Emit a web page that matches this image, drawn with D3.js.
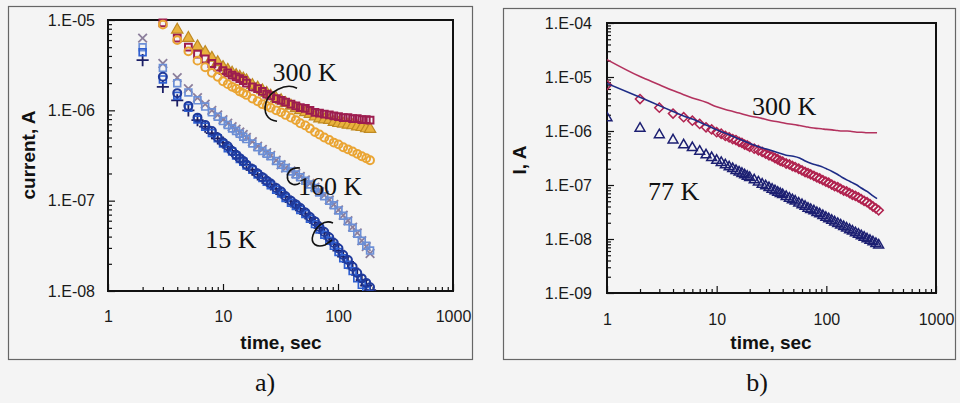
<!DOCTYPE html>
<html>
<head>
<meta charset="utf-8">
<script src="https://cdn.jsdelivr.net/npm/d3@7"></script>
<style>
  body { margin: 0; background: #f4f4f4; }
  svg { display: block; font-family: "Liberation Sans", Arial, sans-serif; }
  .tick text { font-size: 16px; fill: #1a1a1a; }
  .note { font-family: "Liberation Serif", "Times New Roman", serif; font-size: 26px; fill: #111; }
</style>
</head>
<body>
<script>
// 画布
const width = 960;
const height = 403;

// ---- 图 a) 数据: 时间 (s) 与电流 (A)
const tA = [2,3,4,5,6,7,8,9,10,11,12,13,14,15,16,18,20,22,24,26,29,32,35,39,43,47,52,57,63,69,76,84,92,101,111,122,134,147,161,176,190];

const a300Sq = [null,9.3e-6,6.3e-6,5.0e-6,4.2e-6,3.7e-6,3.3e-6,3.0e-6,2.75e-6,2.6e-6,2.45e-6,2.35e-6,2.24e-6,2.14e-6,2.0e-6,
  1.82e-6,1.74e-6,1.62e-6,1.51e-6,1.45e-6,1.35e-6,1.29e-6,1.23e-6,1.17e-6,1.12e-6,1.07e-6,1.05e-6,1.0e-6,9.5e-7,9.3e-7,
  9.1e-7,8.9e-7,8.7e-7,8.5e-7,8.3e-7,8.3e-7,8.1e-7,8.1e-7,7.9e-7,7.9e-7,7.8e-7];
const a300Tri = [null,null,7.8e-6,6.3e-6,5.1e-6,4.4e-6,3.8e-6,3.4e-6,3.0e-6,2.8e-6,2.6e-6,2.45e-6,2.35e-6,2.24e-6,2.14e-6,
  1.9e-6,1.78e-6,1.66e-6,1.55e-6,1.45e-6,1.35e-6,1.29e-6,1.2e-6,1.12e-6,1.05e-6,1.0e-6,9.5e-7,9.1e-7,8.5e-7,8.1e-7,
  7.9e-7,7.8e-7,7.4e-7,7.2e-7,7.1e-7,6.9e-7,6.8e-7,6.6e-7,6.5e-7,6.3e-7,6.2e-7];
const a300Circ = [null,8.9e-6,6.0e-6,4.5e-6,3.55e-6,3.0e-6,2.6e-6,2.35e-6,2.1e-6,1.95e-6,1.82e-6,1.74e-6,1.62e-6,1.55e-6,1.48e-6,
  1.35e-6,1.26e-6,1.17e-6,1.12e-6,1.07e-6,1.0e-6,9.5e-7,8.9e-7,8.3e-7,7.8e-7,7.2e-7,6.8e-7,6.3e-7,5.75e-7,5.4e-7,
  5.0e-7,4.7e-7,4.4e-7,4.2e-7,3.9e-7,3.7e-7,3.5e-7,3.3e-7,3.1e-7,2.95e-7,2.8e-7];
const a160X = [6.3e-6,3.3e-6,2.3e-6,1.74e-6,1.38e-6,1.17e-6,1.0e-6,8.9e-7,7.9e-7,7.2e-7,6.6e-7,6.2e-7,5.75e-7,5.4e-7,5.0e-7,
  4.5e-7,4.0e-7,3.7e-7,3.4e-7,3.16e-7,2.8e-7,2.5e-7,2.3e-7,2.14e-7,2.0e-7,1.86e-7,1.7e-7,1.55e-7,1.41e-7,1.26e-7,
  1.15e-7,1.02e-7,9.1e-8,7.9e-8,6.9e-8,6.0e-8,5.1e-8,4.4e-8,3.6e-8,3.1e-8,2.6e-8];
const a160Sq = [5.0e-6,2.95e-6,2.0e-6,1.58e-6,1.29e-6,1.1e-6,9.5e-7,8.5e-7,7.6e-7,6.9e-7,6.3e-7,5.9e-7,5.5e-7,5.1e-7,4.8e-7,
  4.3e-7,3.9e-7,3.55e-7,3.3e-7,3.1e-7,2.75e-7,2.5e-7,2.3e-7,2.1e-7,1.95e-7,1.82e-7,1.66e-7,1.51e-7,1.38e-7,1.23e-7,
  1.12e-7,1.0e-7,8.9e-8,7.8e-8,6.8e-8,5.9e-8,5.0e-8,4.3e-8,3.6e-8,3.16e-8,2.8e-8];
const a15Circ = [null,2.35e-6,1.55e-6,1.12e-6,8.3e-7,6.9e-7,5.9e-7,5.0e-7,4.4e-7,4.0e-7,3.55e-7,3.2e-7,2.95e-7,2.75e-7,2.5e-7,
  2.24e-7,2.0e-7,1.82e-7,1.66e-7,1.55e-7,1.38e-7,1.26e-7,1.12e-7,1.0e-7,9.1e-8,8.3e-8,7.4e-8,6.6e-8,5.9e-8,5.1e-8,
  4.5e-8,3.9e-8,3.4e-8,2.95e-8,2.5e-8,2.2e-8,1.86e-8,1.58e-8,1.38e-8,1.23e-8,1.1e-8];
const a15Sq = [4.4e-6,2.2e-6,1.45e-6,1.07e-6,7.9e-7,6.6e-7,5.6e-7,4.9e-7,4.3e-7,3.8e-7,3.5e-7,3.16e-7,2.9e-7,2.7e-7,2.45e-7,
  2.2e-7,1.95e-7,1.78e-7,1.62e-7,1.48e-7,1.32e-7,1.2e-7,1.07e-7,9.5e-8,8.7e-8,7.9e-8,7.1e-8,6.3e-8,5.5e-8,4.8e-8,
  4.2e-8,3.6e-8,3.16e-8,2.7e-8,2.3e-8,1.95e-8,1.66e-8,1.38e-8,1.17e-8,1.02e-8,null];
const a15Plus = [3.6e-6,1.82e-6,1.29e-6,1.0e-6,7.8e-7,6.6e-7,5.6e-7,4.9e-7,4.4e-7,3.9e-7,3.55e-7,3.2e-7,2.95e-7,2.7e-7,2.5e-7,
  2.2e-7,1.95e-7,1.78e-7,1.66e-7,1.51e-7,1.35e-7,1.23e-7,1.1e-7,9.8e-8,8.9e-8,8.1e-8,7.2e-8,6.5e-8,5.75e-8,5.0e-8,
  4.4e-8,3.8e-8,3.3e-8,2.8e-8,2.4e-8,2.1e-8,1.78e-8,1.51e-8,1.32e-8,1.15e-8,1.02e-8];

// ---- 图 b) 数据
const tB = [1,2,3,4,5,6,7,8,9,10,11,12,13,14,15,16,17,18,19,20,22,24,26,28,30,32,34,36,38,40,43,46,49,52,56,60,64,68,72,77,
  82,87,93,99,105,112,119,127,135,144,153,163,173,184,196,208,221,235,250,266,283,300];
const b300Dia = [7.1e-6,3.9e-6,2.7e-6,2.1e-6,1.8e-6,1.55e-6,1.35e-6,1.17e-6,1.07e-6,9.5e-7,8.9e-7,8.1e-7,7.6e-7,7.1e-7,6.8e-7,6.3e-7,6.0e-7,5.6e-7,5.4e-7,5.1e-7,
  4.7e-7,4.4e-7,4.1e-7,3.8e-7,3.55e-7,3.4e-7,3.16e-7,3.0e-7,2.8e-7,2.7e-7,
  2.5e-7,2.4e-7,2.25e-7,2.15e-7,2.0e-7,1.86e-7,1.74e-7,1.66e-7,1.58e-7,1.48e-7,
  1.38e-7,1.32e-7,1.23e-7,1.15e-7,1.1e-7,1.02e-7,9.5e-8,9.1e-8,8.5e-8,7.9e-8,
  7.6e-8,7.1e-8,6.6e-8,6.3e-8,5.9e-8,5.5e-8,5.1e-8,4.8e-8,4.4e-8,4.0e-8,3.7e-8,3.4e-8];
const b77Tri = [1.75e-6,1.12e-6,8.5e-7,6.8e-7,5.5e-7,4.9e-7,4.2e-7,3.6e-7,3.2e-7,2.85e-7,2.6e-7,2.35e-7,2.16e-7,2.0e-7,1.85e-7,1.73e-7,1.63e-7,1.53e-7,1.44e-7,1.37e-7,
  1.24e-7,1.13e-7,1.03e-7,9.6e-8,8.9e-8,8.3e-8,7.8e-8,7.3e-8,6.9e-8,6.6e-8,
  6.1e-8,5.65e-8,5.3e-8,5.0e-8,4.6e-8,4.3e-8,4.0e-8,3.7e-8,3.5e-8,3.3e-8,
  3.06e-8,2.9e-8,2.7e-8,2.5e-8,2.36e-8,2.2e-8,2.06e-8,1.93e-8,1.81e-8,1.69e-8,
  1.58e-8,1.48e-8,1.39e-8,1.3e-8,1.22e-8,1.14e-8,1.07e-8,1.0e-8,9.4e-9,8.8e-9,8.2e-9,7.7e-9];
const tLine = [1,2,3,4,5,6,8,10,13,16,20,25,30,36,43,50,57,65,73,81,90,100,113,126,140,155,170,190,210,235,260,290];
const bLineRed = [2.1e-5,1.02e-5,7.2e-6,5.6e-6,4.7e-6,4.1e-6,3.4e-6,2.8e-6,2.4e-6,2.15e-6,1.9e-6,1.74e-6,1.58e-6,1.48e-6,1.38e-6,1.32e-6,
  1.26e-6,1.2e-6,1.15e-6,1.12e-6,1.1e-6,1.07e-6,1.05e-6,1.02e-6,1.0e-6,1.0e-6,9.8e-7,9.5e-7,9.5e-7,9.3e-7,9.3e-7,9.3e-7];
const bLineBlue = [7.6e-6,4.2e-6,2.95e-6,2.3e-6,1.9e-6,1.66e-6,1.29e-6,1.05e-6,8.5e-7,7.1e-7,5.9e-7,5.0e-7,4.5e-7,4.0e-7,3.55e-7,3.4e-7,
  3.16e-7,2.75e-7,2.5e-7,2.35e-7,2.2e-7,2.0e-7,1.78e-7,1.58e-7,1.38e-7,1.23e-7,1.12e-7,1.0e-7,8.7e-8,7.6e-8,6.5e-8,5.6e-8];

// 刻度标签
const xTickVals = [1, 10, 100, 1000];
const xTickLabels = ['1', '10', '100', '1000'];
const yTicksA = [1e-8, 1e-7, 1e-6, 1e-5];
const yLabelsA = ['1.E-08', '1.E-07', '1.E-06', '1.E-05'];
const yTicksB = [1e-9, 1e-8, 1e-7, 1e-6, 1e-5, 1e-4];
const yLabelsB = ['1.E-09', '1.E-08', '1.E-07', '1.E-06', '1.E-05', '1.E-04'];

let svg = d3.select('body')
    .append('svg')
    .attr('width', width)
    .attr('height', height);

svg.append('rect').attr('width', width).attr('height', height).attr('fill', '#f4f4f4');

// 外框
svg.append('rect').attr('x', 8.5).attr('y', 6.5).attr('width', 464).attr('height', 353)
    .attr('fill', 'none').attr('stroke', '#666').attr('stroke-width', 1.2);
svg.append('rect').attr('x', 503.5).attr('y', 8.5).attr('width', 452).attr('height', 351)
    .attr('fill', 'none').attr('stroke', '#666').attr('stroke-width', 1.2);

function makePanel(id, box, yDomain, yTicks, yLabels, xPad, yPad) {
  const x = d3.scaleLog().domain([1, 1000]).range([box.left, box.right]);
  const y = d3.scaleLog().domain(yDomain).range([box.bottom, box.top]);

  svg.append('clipPath').attr('id', id)
    .append('rect')
    .attr('x', box.left).attr('y', box.top - 4)
    .attr('width', box.right - box.left + 4).attr('height', box.bottom - box.top + 4);

  // 次刻度
  const xMinor = x.ticks().filter(d => xTickVals.indexOf(d) < 0);
  const yMinor = y.ticks().filter(d => yTicks.indexOf(d) < 0);
  svg.append('g')
    .attr('transform', 'translate(0,' + box.bottom + ')')
    .call(d3.axisBottom(x).tickValues(xMinor).tickSize(-4).tickFormat(''))
    .call(g => g.select('.domain').remove());
  svg.append('g')
    .attr('transform', 'translate(' + box.left + ',0)')
    .call(d3.axisLeft(y).tickValues(yMinor).tickSize(-4).tickFormat(''))
    .call(g => g.select('.domain').remove());

  // 主刻度
  svg.append('g')
    .attr('transform', 'translate(0,' + box.bottom + ')')
    .call(d3.axisBottom(x).tickValues(xTickVals).tickSize(-7).tickPadding(xPad)
      .tickFormat((d, i) => xTickLabels[i]))
    .call(g => g.select('.domain').remove());
  svg.append('g')
    .attr('transform', 'translate(' + box.left + ',0)')
    .call(d3.axisLeft(y).tickValues(yTicks).tickSize(-7).tickPadding(yPad)
      .tickFormat((d, i) => yLabels[i]))
    .call(g => g.select('.domain').remove());

  svg.selectAll('.tick line').attr('stroke', '#111').attr('stroke-width', 1.2);

  svg.append('rect')
    .attr('x', box.left).attr('y', box.top)
    .attr('width', box.right - box.left).attr('height', box.bottom - box.top)
    .attr('fill', 'none').attr('stroke', '#111').attr('stroke-width', 2);

  const plot = svg.append('g').attr('clip-path', 'url(#' + id + ')');
  return { x, y, plot };
}

function drawSeries(p, times, values, o) {
  const pts = times.map((t, i) => [t, values[i]]).filter(d => d[1] != null);
  p.plot.append('g')
    .selectAll('path')
    .data(pts)
    .enter()
    .append('path')
    .attr('transform', d => 'translate(' + p.x(d[0]) + ',' + p.y(d[1]) + ')' + (o.rotate ? ' rotate(' + o.rotate + ')' : ''))
    .attr('d', d3.symbol().type(o.type).size(o.size))
    .attr('fill', o.fill || 'none')
    .attr('stroke', o.stroke)
    .attr('stroke-width', o.sw || 1.6);
}

function drawLine(p, times, values, color) {
  p.plot.append('path')
    .datum(times.map((t, i) => [t, values[i]]))
    .attr('d', d3.line().x(d => p.x(d[0])).y(d => p.y(d[1])).curve(d3.curveMonotoneX))
    .attr('fill', 'none')
    .attr('stroke', color)
    .attr('stroke-width', 1.6);
}

// ---------- 图 a)
const pa = makePanel('clipA', {left: 108, right: 453, top: 20, bottom: 291}, [1e-8, 1e-5], yTicksA, yLabelsA, 20, 13);

drawSeries(pa, tA, a160X,   {type: d3.symbolTimes, size: 50, stroke: '#8c7f9c', sw: 1.8});
drawSeries(pa, tA, a160Sq,  {type: d3.symbolSquare, size: 46, stroke: '#6c8fd6', sw: 1.7});
drawSeries(pa, tA, a15Plus, {type: d3.symbolPlus, size: 50, stroke: '#1b1f66', sw: 1.8});
drawSeries(pa, tA, a15Sq,   {type: d3.symbolSquare, size: 46, stroke: '#2f5fd0', sw: 1.7});
drawSeries(pa, tA, a15Circ, {type: d3.symbolCircle, size: 50, stroke: '#1f3a9c', sw: 2});
drawSeries(pa, tA, a300Tri, {type: d3.symbolTriangle, size: 56, fill: '#e9b23e', stroke: '#c08a22', sw: 1.2});
drawSeries(pa, tA, a300Sq,  {type: d3.symbolSquare, size: 46, stroke: '#9d1d4f', sw: 2});
drawSeries(pa, tA, a300Circ,{type: d3.symbolCircle, size: 48, stroke: '#eaa534', sw: 2});

// ---------- 图 b)
const pb = makePanel('clipB', {left: 607, right: 936, top: 23, bottom: 293}, [1e-9, 1e-4], yTicksB, yLabelsB, 21, 15);

drawLine(pb, tLine, bLineRed, '#b3325e');
drawSeries(pb, tB, b77Tri,  {type: d3.symbolTriangle, size: 42, stroke: '#1c1f72', sw: 1.5});
drawSeries(pb, tB, b300Dia, {type: d3.symbolSquare, size: 42, rotate: 45, stroke: '#b0224f', sw: 1.5});
drawLine(pb, tLine, bLineBlue, '#1e2c86');

// 坐标轴标题
svg.append('text').attr('x', 281).attr('y', 349).attr('text-anchor', 'middle')
  .attr('font-size', 19).attr('font-weight', 'bold').attr('fill', '#111').text('time, sec');
svg.append('text').attr('transform', 'translate(35,155) rotate(-90)').attr('text-anchor', 'middle')
  .attr('font-size', 19).attr('font-weight', 'bold').attr('fill', '#111').text('current, A');
svg.append('text').attr('x', 771).attr('y', 349).attr('text-anchor', 'middle')
  .attr('font-size', 19).attr('font-weight', 'bold').attr('fill', '#111').text('time, sec');
svg.append('text').attr('transform', 'translate(526,160) rotate(-90)').attr('text-anchor', 'middle')
  .attr('font-size', 19).attr('font-weight', 'bold').attr('fill', '#111').text('I, A');

// 子图编号
svg.append('text').attr('class', 'note').attr('x', 265).attr('y', 391).attr('text-anchor', 'middle').text('a)');
svg.append('text').attr('class', 'note').attr('x', 757).attr('y', 391).attr('text-anchor', 'middle').text('b)');

// 温度标注 (数据坐标)
const notesA = [
  {t: 27, v: 2.1e-6, text: '300 K'},
  {t: 45, v: 1.16e-7, text: '160 K'},
  {t: 7, v: 3.0e-8, text: '15 K'}
];
const notesB = [
  {t: 21, v: 1.98e-6, text: '300 K'},
  {t: 2.36, v: 5.2e-8, text: '77 K'}
];
notesA.forEach(n => svg.append('text').attr('class', 'note').attr('x', pa.x(n.t)).attr('y', pa.y(n.v)).text(n.text));
notesB.forEach(n => svg.append('text').attr('class', 'note').attr('x', pb.x(n.t)).attr('y', pb.y(n.v)).text(n.text));

// 弧形括号
const curls = [
  {t: 23.2, v: 1.17e-6, d: 'M32,-16 C20,-22 4,-12 1,-2 C-2,8 2,16 12,17'},
  {t: 36.7, v: 1.83e-7, d: 'M12,-9 C2,-10 -2,-3 0,3 C2,8 8,9 12,6'},
  {t: 59.4, v: 4.17e-8, d: 'M21,-12 C12,-16 4,-8 1,0 C-2,9 5,13 13,10 L20,5'}
];
curls.forEach(c => {
  svg.append('path')
    .attr('transform', 'translate(' + pa.x(c.t) + ',' + pa.y(c.v) + ')')
    .attr('d', c.d)
    .attr('fill', 'none')
    .attr('stroke', '#111')
    .attr('stroke-width', 1.6);
});
</script>
</body>
</html>
